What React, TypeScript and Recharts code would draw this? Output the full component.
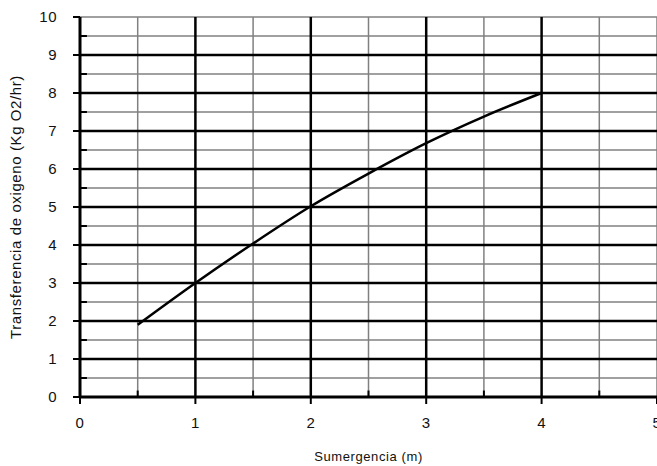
import { LineChart, Line, XAxis, YAxis, ReferenceLine, Label } from 'recharts'

const SUBMERGENCE = [0.5, 1, 1.5, 2, 2.5, 3, 3.5, 4]
const OXYGEN_TRANSFER = [1.9, 3.0, 4.04, 5.02, 5.88, 6.68, 7.38, 8.0]

const X_TICKS = [0, 1, 2, 3, 4, 5]
const Y_TICKS = [0, 1, 2, 3, 4, 5, 6, 7, 8, 9, 10]
const X_MAJOR_GRID = [1, 2, 3, 4]
const X_MINOR_GRID = [0.5, 1.5, 2.5, 3.5, 4.5, 5]
const Y_MAJOR_GRID = [1, 2, 3, 4, 5, 6, 7, 8, 9]
const Y_MINOR_GRID = [0.5, 1.5, 2.5, 3.5, 4.5, 5.5, 6.5, 7.5, 8.5, 9.5, 10]

const data = SUBMERGENCE.map((x, i) => ({ x, y: OXYGEN_TRANSFER[i] }))

const FONT = '"Liberation Sans", Arial, sans-serif'
const tickStyle = { fill: '#111', fontSize: 15, fontFamily: FONT, letterSpacing: 0.5 }

export default function App() {
  return (
    <div style={{ position: 'absolute', left: 0, top: 0, background: '#fff' }}>
      <LineChart
        width={672}
        height={466}
        data={data}
        margin={{ top: 17, right: 15, bottom: 0, left: 0 }}
      >
        <XAxis
          type="number"
          dataKey="x"
          domain={[0, 5]}
          ticks={X_TICKS}
          height={69}
          tick={tickStyle}
          tickSize={7}
          tickMargin={13}
          axisLine={{ stroke: '#000', strokeWidth: 3 }}
          tickLine={{ stroke: '#000', strokeWidth: 2 }}
        >
          <Label
            value="Sumergencia (m)"
            position="insideBottom"
            offset={5}
            style={{ fill: '#111', fontSize: 13, fontFamily: FONT, letterSpacing: 0.6 }}
          />
        </XAxis>
        <YAxis
          type="number"
          domain={[0, 10]}
          ticks={Y_TICKS}
          width={80}
          tick={tickStyle}
          tickSize={7}
          tickMargin={16}
          axisLine={{ stroke: '#000', strokeWidth: 3 }}
          tickLine={{ stroke: '#000', strokeWidth: 2 }}
        >
          <Label
            value="Transferencia de oxigeno  (Kg O2/hr)"
            angle={-90}
            position="insideLeft"
            offset={6}
            dx={10}
            style={{
              textAnchor: 'middle',
              fill: '#111',
              fontSize: 15,
              fontFamily: FONT,
              letterSpacing: 0.6,
              whiteSpace: 'pre',
            }}
          />
        </YAxis>

        {X_MINOR_GRID.map(v => (
          <ReferenceLine key={`xm${v}`} x={v} stroke="#808080" strokeWidth={1.5} />
        ))}
        {Y_MINOR_GRID.map(v => (
          <ReferenceLine key={`ym${v}`} y={v} stroke="#808080" strokeWidth={1.5} />
        ))}
        {X_MAJOR_GRID.map(v => (
          <ReferenceLine key={`xM${v}`} x={v} stroke="#000" strokeWidth={2.5} />
        ))}
        {Y_MAJOR_GRID.map(v => (
          <ReferenceLine key={`yM${v}`} y={v} stroke="#000" strokeWidth={2.5} />
        ))}
        {X_MINOR_GRID.filter(v => v < 5).map(v => (
          <ReferenceLine
            key={`xt${v}`}
            segment={[{ x: v, y: 0 }, { x: v, y: 0.17 }]}
            stroke="#000"
            strokeWidth={2}
          />
        ))}
        {Y_MINOR_GRID.filter(v => v < 10).map(v => (
          <ReferenceLine
            key={`yt${v}`}
            segment={[{ x: 0, y: v }, { x: 0.06, y: v }]}
            stroke="#000"
            strokeWidth={2}
          />
        ))}

        <Line
          type="monotone"
          dataKey="y"
          stroke="#000"
          strokeWidth={2.5}
          dot={false}
          isAnimationActive={false}
        />
      </LineChart>
    </div>
  )
}
